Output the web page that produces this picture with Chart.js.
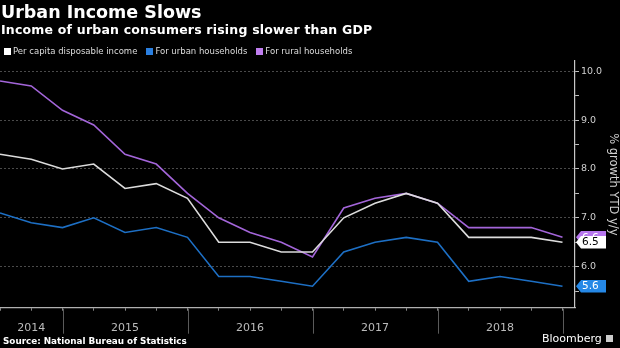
<!DOCTYPE html>
<html>
<head>
<meta charset="utf-8">
<script src="https://cdn.jsdelivr.net/npm/chart.js@4.4.1/dist/chart.umd.min.js"></script>
<style>
  html, body { margin: 0; padding: 0; background: #000; }
  body { width: 620px; height: 348px; position: relative; overflow: hidden; font-family: "DejaVu Sans", sans-serif; }
  #wrap { position: absolute; left: 0; top: 0; width: 620px; height: 348px; }
  .txt { position: absolute; white-space: nowrap; line-height: 1; }
  #title { left: 1px; top: 3.5px; color: #fff; font-weight: bold; font-size: 17.5px; }
  #subtitle { left: 1px; top: 23.7px; color: #fff; font-weight: bold; font-size: 12.5px; letter-spacing: 0.2px; }
  #legend { left: 4px; top: 47px; color: #ddd; font-size: 8.5px; }
  #legend span.item { margin-right: 9px; }
  #legend i { display: inline-block; width: 7px; height: 7px; margin-right: 2px; vertical-align: -0.5px; }
  #source { left: 3px; top: 336.5px; color: #fff; font-weight: bold; font-size: 8.8px; }
  #brand { left: 542px; top: 333px; color: #fff; font-size: 11px; }
  #brand b { display: inline-block; width: 7px; height: 7px; background: #ccc; margin-left: 4px; vertical-align: 0; }
</style>
</head>
<body>
<div id="wrap"><canvas id="myChart" width="620" height="348"></canvas></div>
<div class="txt" id="title">Urban Income Slows</div>
<div class="txt" id="subtitle">Income of urban consumers rising slower than GDP</div>
<div class="txt" id="legend"></div>
<div class="txt" id="source">Source: National Bureau of Statistics</div>
<div class="txt" id="brand">Bloomberg<b></b></div>
<script>
// quarterly YTD growth, % y/y
const quarters = [
    "2014 Q2", "2014 Q3", "2014 Q4",
    "2015 Q1", "2015 Q2", "2015 Q3", "2015 Q4",
    "2016 Q1", "2016 Q2", "2016 Q3", "2016 Q4",
    "2017 Q1", "2017 Q2", "2017 Q3", "2017 Q4",
    "2018 Q1", "2018 Q2", "2018 Q3", "2018 Q4"
];
const perCapita = [8.3, 8.2, 8.0, 8.1, 7.6, 7.7, 7.4, 6.5, 6.5, 6.3, 6.3, 7.0, 7.3, 7.5, 7.3, 6.6, 6.6, 6.6, 6.5];
const urban = [7.1, 6.9, 6.8, 7.0, 6.7, 6.8, 6.6, 5.8, 5.8, 5.7, 5.6, 6.3, 6.5, 6.6, 6.5, 5.7, 5.8, 5.7, 5.6];
const rural = [9.8, 9.7, 9.2, 8.9, 8.3, 8.1, 7.5, 7.0, 6.7, 6.5, 6.2, 7.2, 7.4, 7.5, 7.3, 6.8, 6.8, 6.8, 6.6];

const seriesNames = ["Per capita disposable income", "For urban households", "For rural households"];
const yTicks = [5.5, 6, 6.5, 7, 7.5, 8, 8.5, 9, 9.5, 10];

const colors = ["#dcdcdc", "#1d6fc4", "#a365d9"];
const legendColors = ["#ffffff", "#2a7fe0", "#c07ef0"];
const tagColors = ["#ffffff", "#2588e6", "#b676ee"];
const tagText = ["#000", "#fff", "#fff"];

const seriesData = [perCapita, urban, rural];

// legend row
document.getElementById("legend").innerHTML = seriesNames.map((name, i) =>
    `<span class="item"><i style="background:${legendColors[i]}"></i>${name}</span>`
).join("");

const toPoints = arr => arr.map((v, i) => ({ x: i, y: v }));

// year bands along the x axis, split at each Q4
const yearEnds = [];
quarters.forEach((q, i) => { if (q.endsWith("Q4")) yearEnds.push(i); });
const years = yearEnds.map(i => quarters[i].slice(0, 4));

const yearAxisPlugin = {
    id: "yearAxis",
    afterDraw(chart) {
        const ctx = chart.ctx;
        const xs = chart.scales.x;
        const bottom = chart.chartArea.bottom;
        ctx.save();
        ctx.strokeStyle = "#5a5a5a";
        ctx.lineWidth = 1;
        yearEnds.forEach(i => {
            const px = Math.round(xs.getPixelForValue(i)) + 0.5;
            ctx.beginPath();
            ctx.moveTo(px, bottom + 1);
            ctx.lineTo(px, bottom + 26);
            ctx.stroke();
        });
        ctx.fillStyle = "#bbbbbb";
        ctx.font = "11px 'DejaVu Sans'";
        ctx.textAlign = "center";
        ctx.textBaseline = "alphabetic";
        years.forEach((y, k) => {
            const start = k === 0 ? 0 : yearEnds[k - 1];
            const mid = (start + yearEnds[k]) / 2;
            ctx.fillText(y, xs.getPixelForValue(mid), bottom + 23);
        });
        ctx.restore();
    }
};

// value tags for the last point of each series, on the right axis
const lastValuePlugin = {
    id: "lastValue",
    afterDraw(chart) {
        const ctx = chart.ctx;
        const ys = chart.scales.y;
        const x0 = chart.chartArea.right + 1;
        ctx.save();
        ctx.font = "10.5px 'DejaVu Sans'";
        ctx.textBaseline = "middle";
        [1, 2, 0].forEach(i => {
            const v = seriesData[i][seriesData[i].length - 1];
            const y = ys.getPixelForValue(v);
            const h = 12.5;
            ctx.fillStyle = tagColors[i];
            ctx.beginPath();
            ctx.moveTo(x0, y);
            ctx.lineTo(x0 + 5, y - h / 2);
            ctx.lineTo(x0 + 30, y - h / 2);
            ctx.lineTo(x0 + 30, y + h / 2);
            ctx.lineTo(x0 + 5, y + h / 2);
            ctx.closePath();
            ctx.fill();
            ctx.fillStyle = tagText[i];
            ctx.fillText(v.toFixed(1), x0 + 6, y + 0.5);
        });
        ctx.restore();
    }
};

const ctx = document.getElementById("myChart").getContext("2d");
new Chart(ctx, {
    type: "line",
    data: {
        datasets: seriesNames.map((name, i) => ({
            label: name,
            data: toPoints(seriesData[i]),
            borderColor: colors[i],
            borderWidth: 1.6,
            pointRadius: 0,
            tension: 0,
            fill: false
        }))
    },
    options: {
        responsive: false,
        animation: false,
        layout: { padding: { top: 61, left: 0, right: 0, bottom: 0 } },
        plugins: {
            legend: { display: false },
            title: { display: false },
            tooltip: { enabled: false }
        },
        scales: {
            x: {
                type: "linear",
                min: 0,
                max: 18.4,
                afterBuildTicks: scale => { scale.ticks = quarters.map((q, i) => ({ value: i })); },
                afterFit: scale => { scale.height = 40.3; },
                ticks: { display: false },
                grid: { drawOnChartArea: false, drawTicks: true, tickLength: 3, tickColor: "#888" },
                border: { display: true, color: "#b0b0b0", width: 1.2 }
            },
            y: {
                position: "right",
                min: 5.16,
                max: 10.21,
                afterBuildTicks: scale => { scale.ticks = yTicks.map(v => ({ value: v })); },
                afterFit: scale => { scale.width = 45; },
                ticks: {
                    color: "#d0d0d0",
                    font: { family: "DejaVu Sans", size: 9.5 },
                    padding: 2,
                    callback: v => (Number.isInteger(v) ? v.toFixed(1) : "")
                },
                grid: {
                    color: c => (Number.isInteger(c.tick && c.tick.value) ? "#4a4a4a" : "rgba(0,0,0,0)"),
                    tickColor: "#c0c0c0",
                    tickLength: 4,
                    lineWidth: 1
                },
                border: { display: true, color: "#c8c8c8", width: 1.2, dash: [2, 2] },
                title: {
                    display: true,
                    text: "% growth YTD y/y",
                    color: "#d0d0d0",
                    font: { family: "DejaVu Sans", size: 11.5 },
                    padding: { top: 0, bottom: 2 }
                }
            }
        }
    },
    plugins: [yearAxisPlugin, lastValuePlugin]
});
</script>
</body>
</html>
